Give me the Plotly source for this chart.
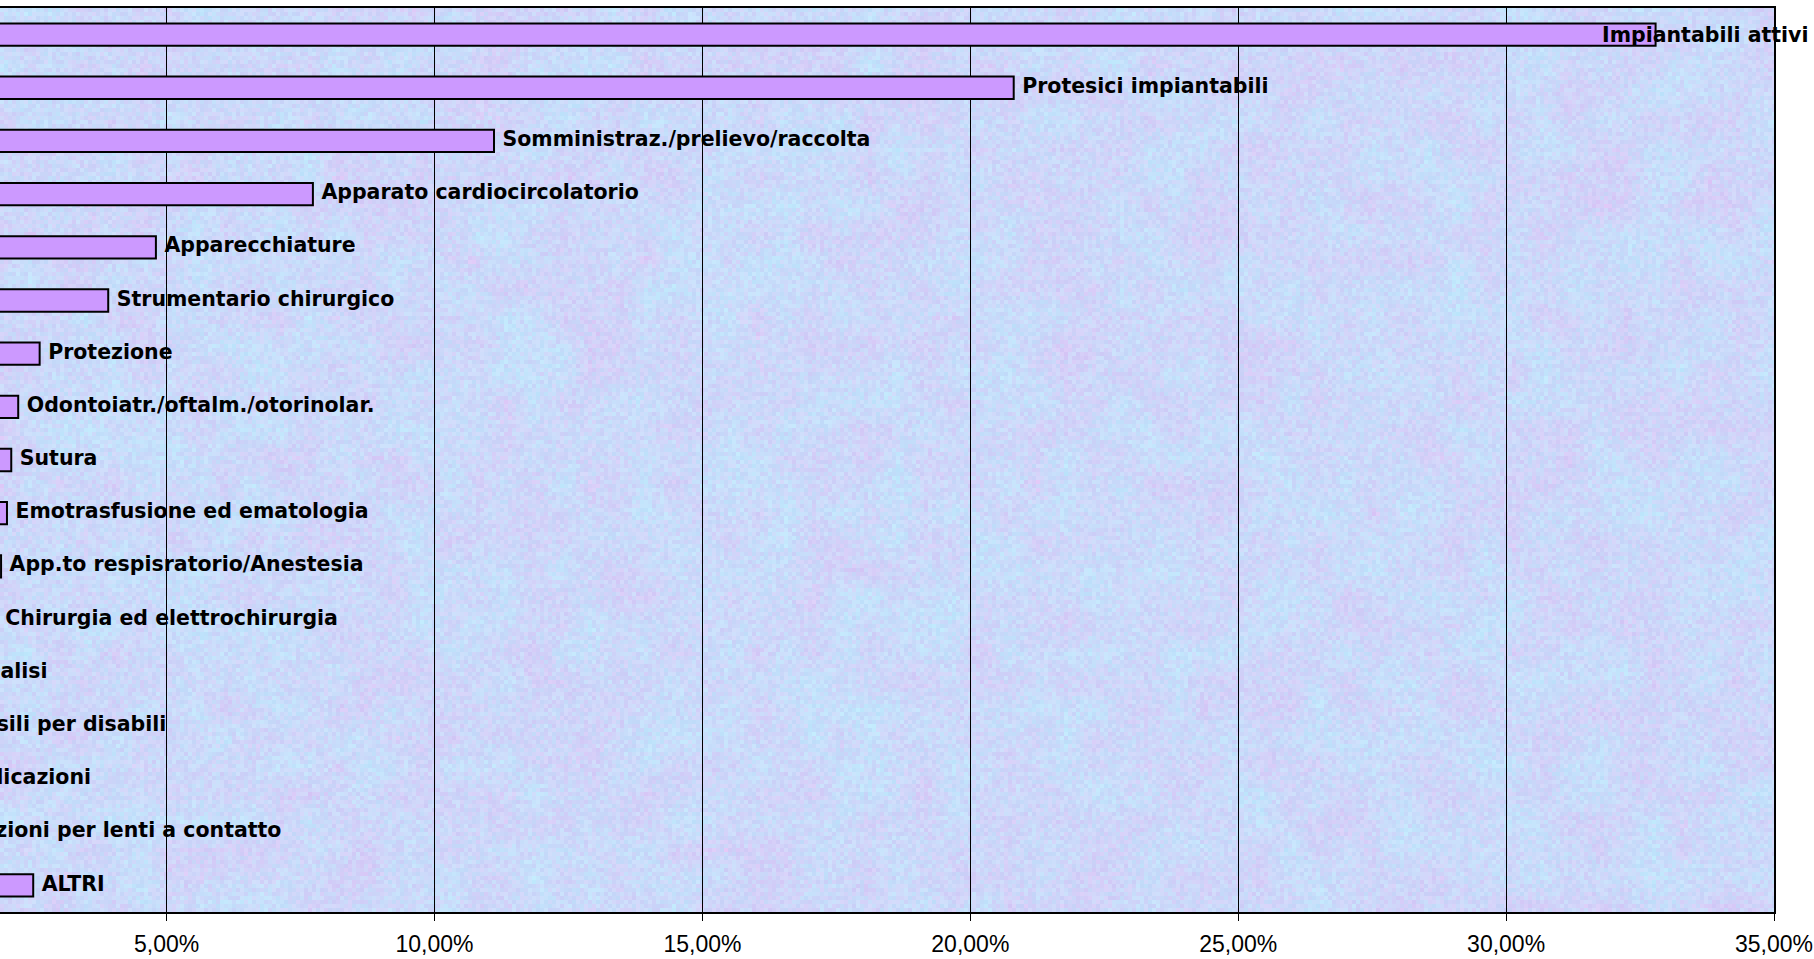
import zlib
import struct
import base64
import plotly.graph_objects as go

# ---------------- data ----------------
categories = [
    "Impiantabili attivi",
    "Protesici impiantabili",
    "Somministraz./prelievo/raccolta",
    "Apparato cardiocircolatorio",
    "Apparecchiature",
    "Strumentario chirurgico",
    "Protezione",
    "Odontoiatr./oftalm./otorinolar.",
    "Sutura",
    "Emotrasfusione ed ematologia",
    "App.to respisratorio/Anestesia",
    "Chirurgia ed elettrochirurgia",
    "Dialisi",
    "Ausili per disabili",
    "Medicazioni",
    "Soluzioni per lenti a contatto",
    "ALTRI",
]
values = [32.79, 20.81, 11.11, 7.73, 4.80, 3.91, 2.63, 2.23, 2.10, 2.02,
          1.91, 1.83, 1.29, 1.10, 0.88, 0.70, 2.51]

tick_values = [5, 10, 15, 20, 25, 30, 35]
tick_labels = ["5,00%", "10,00%", "15,00%", "20,00%", "25,00%", "30,00%", "35,00%"]

# ---------------- layout constants ----------------
FIG_W, FIG_H = 1814, 959
M_L, M_R, M_T, M_B = 0, 40, 8, 47
X_LEFT = 1.89          # axis value visible at the left page edge (chart is cropped)
X_RIGHT = 35
BAR_COLOR = "#cc99ff"
LABEL_FONT = dict(family="DejaVu Sans", size=20.5, color="#000000", weight="bold")


def texture_png(w, h, block=4):
    """Deterministic pastel mosaic used as the plot-area background."""
    def hsh(a, b, s):
        n = (a * 374761393 + b * 668265263 + s * 144269504) & 0xFFFFFFFF
        n = ((n ^ (n >> 13)) * 1274126177) & 0xFFFFFFFF
        n ^= n >> 16
        return (n & 0xFFFF) / 65535.0

    cell = 7

    def lowfreq(bx, by, s):
        cx, cy = bx // cell, by // cell
        fx, fy = (bx % cell) / cell, (by % cell) / cell
        a = hsh(cx, cy, s)
        b = hsh(cx + 1, cy, s)
        c = hsh(cx, cy + 1, s)
        d = hsh(cx + 1, cy + 1, s)
        top = a + (b - a) * fx
        bot = c + (d - c) * fx
        return top + (bot - top) * fy

    bw = (w + block - 1) // block
    bh = (h + block - 1) // block
    raw = bytearray()
    zero_row = b"\x02" + bytes(w * 3)
    rows_done = 0
    for by in range(bh):
        row = bytearray()
        for bx in range(bw):
            t = hsh(bx, by, 1) - 0.5
            u = hsh(bx, by, 2) - 0.5
            n = hsh(bx, by, 5) - 0.5
            L1 = lowfreq(bx, by, 3) - 0.5
            L2 = lowfreq(bx, by, 4) - 0.5
            a = 1.3 * t + 1.5 * L1
            p = max(0.0, (0.5 * u + 1.5 * L2) - 0.5) * 2.0
            r = 204 - 10 * a + 12 * p + 12 * n
            g = 217 + 12 * a - 6 * p + 11 * n
            bl = 250 + 2 * a + 4 * n
            px = bytes((max(0, min(255, int(r))), max(0, min(255, int(g))),
                        max(0, min(255, int(bl)))))
            row += px * block
        row = bytes(row[: w * 3])
        for k in range(block):
            if rows_done >= h:
                break
            if k == 0:
                raw += b"\x00" + row
            else:
                raw += zero_row
            rows_done += 1

    def chunk(tag, data):
        c = struct.pack(">I", len(data)) + tag + data
        return c + struct.pack(">I", zlib.crc32(tag + data) & 0xFFFFFFFF)

    png = b"\x89PNG\r\n\x1a\n"
    png += chunk(b"IHDR", struct.pack(">IIBBBBB", w, h, 8, 2, 0, 0, 0))
    png += chunk(b"IDAT", zlib.compress(bytes(raw), 9))
    png += chunk(b"IEND", b"")
    return "data:image/png;base64," + base64.b64encode(png).decode("ascii")


plot_w = FIG_W - M_L - M_R
plot_h = FIG_H - M_T - M_B
bg_uri = texture_png(plot_w, plot_h)

fig = go.Figure()

fig.add_trace(go.Bar(
    x=values,
    y=categories,
    orientation="h",
    base=0,
    width=0.42,
    marker=dict(color=BAR_COLOR, line=dict(color="#000000", width=2)),
    cliponaxis=True,
    hoverinfo="skip",
    showlegend=False,
))

# value labels to the right of each bar (first one is pushed inside the chart, as in the original)
fig.add_trace(go.Scatter(
    x=values[1:],
    y=categories[1:],
    mode="markers+text",
    text=categories[1:],
    textposition="middle right",
    textfont=LABEL_FONT,
    marker=dict(size=12, color="rgba(0,0,0,0)"),
    cliponaxis=True,
    hoverinfo="skip",
    showlegend=False,
))

fig.add_annotation(
    xref="paper", x=1, xanchor="right", xshift=37,
    yref="y", y=categories[0], yanchor="middle", yshift=0,
    text=categories[0],
    showarrow=False,
    font=LABEL_FONT,
)

fig.update_layout(
    width=FIG_W,
    height=FIG_H,
    autosize=False,
    margin=dict(l=M_L, r=M_R, t=M_T, b=M_B, pad=0, autoexpand=False),
    paper_bgcolor="#ffffff",
    plot_bgcolor="rgba(0,0,0,0)",
    bargap=0.58,
    showlegend=False,
    images=[dict(
        source=bg_uri,
        xref="paper", yref="paper",
        x=0, y=1, sizex=1, sizey=1,
        xanchor="left", yanchor="top",
        sizing="stretch",
        layer="below",
    )],
    xaxis=dict(
        range=[X_LEFT, X_RIGHT],
        automargin=False,
        tickvals=tick_values,
        ticktext=tick_labels,
        tickfont=dict(family="Liberation Sans, Arial", size=23, color="#000000"),
        ticks="outside",
        ticklen=7,
        tickwidth=1,
        tickcolor="#000000",
        ticklabelstandoff=3,
        showgrid=True,
        gridcolor="#000000",
        gridwidth=1,
        zeroline=False,
        showline=True,
        linecolor="#000000",
        linewidth=2,
        mirror=True,
        fixedrange=True,
    ),
    yaxis=dict(
        range=[len(categories) - 0.5, -0.5],
        automargin=False,
        showticklabels=False,
        ticks="",
        showgrid=False,
        zeroline=False,
        showline=True,
        side="right",
        linecolor="#000000",
        linewidth=1.5,
        fixedrange=True,
    ),
)

fig.write_html(
    "out.html",
    config={"displayModeBar": False},
    post_script="document.body.style.margin='0px';document.body.style.overflow='hidden';",
)
